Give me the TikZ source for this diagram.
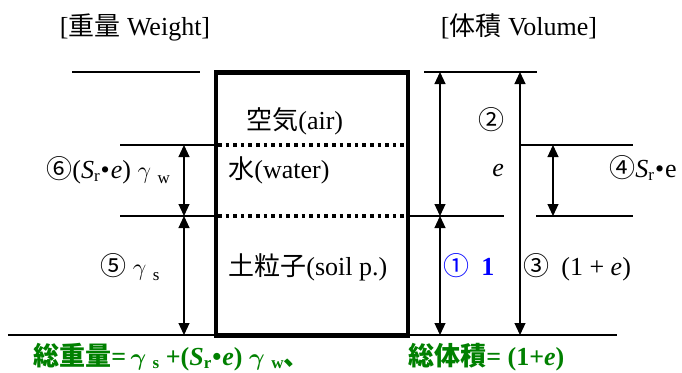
\documentclass[tikz,border=0pt]{standalone}
\usepackage{fontspec}
\usepackage{bm}
\setmainfont{Liberation Serif}
\newfontfamily\jp{Noto Sans CJK JP}
\usetikzlibrary{arrows.meta}
\definecolor{grn}{RGB}{0,128,0}
\definecolor{blu}{RGB}{0,0,255}
\newcommand{\gsub}[1]{\raisebox{-2.5pt}{\fontsize{8.5}{9}\selectfont #1}}
\newcommand{\tsub}[1]{\raisebox{-1.5pt}{\fontsize{8.5}{9}\selectfont #1}}
\newcommand{\Sr}{\textit{S}\raisebox{-1.5pt}{\fontsize{8.5}{9}\selectfont r}}
\newcommand{\mdot}{\kern0.5pt•\kern0.5pt}
\newcommand{\gam}{$\gamma$}
\newcommand{\bgam}{$\bm{\gamma}$}
\begin{document}
\begin{tikzpicture}[x=0.5pt,y=-0.5pt,
  every node/.style={inner sep=0pt,font=\fontsize{13}{15}\selectfont},
  ln/.style={line width=0.6pt},
  tip/.tip={Triangle[length=6pt,width=5.5pt]},
  dimarrow/.style={ln,tip-tip},
  boxline/.style={line width=2.2pt},
  sep/.style={line width=1.8pt,dash pattern=on 1.8pt off 2pt},
  lbl/.style={anchor=base west},
  total/.style={anchor=base west,text=grn,font=\fontsize{13}{15}\selectfont\bfseries}]
\useasboundingbox (0,0) rectangle (682,372);
% coordinates
\coordinate (LT1) at (72,72);   \coordinate (LT2) at (200,72);
\coordinate (Lw) at (120,145);  \coordinate (Ls) at (120,216);
\coordinate (Lb) at (8,335);
\coordinate (BXw) at (216,145); \coordinate (BXs) at (216,216); \coordinate (BXb) at (216,335);
\coordinate (BXe) at (408,216); \coordinate (BXeb) at (408,335);
\coordinate (A1) at (184,145); \coordinate (A2) at (184,216); \coordinate (A3) at (184,335);
\coordinate (B1) at (440,72);  \coordinate (B2) at (440,216); \coordinate (B3) at (440,335);
\coordinate (C1) at (520,72);  \coordinate (C2) at (520,145); \coordinate (C3) at (520,335);
\coordinate (D1) at (553,145); \coordinate (D2) at (553,216);
\coordinate (RT1) at (424,72); \coordinate (RT2) at (537,72);
\coordinate (RW2) at (633,145);
\coordinate (RS1) at (504,216); \coordinate (RS2) at (536,216); \coordinate (RS3) at (633,216);
\coordinate (RB2) at (617,335);
\coordinate (S1) at (218,145); \coordinate (S2) at (406,145);
\coordinate (S3) at (218,216); \coordinate (S4) at (406,216);
% box
\draw[boxline] (216,72.5) rectangle (408,335.5);
\draw[sep] (S1) -- (S2);
\draw[sep] (S3) -- (S4);
% horizontal reference lines
\draw[ln] (LT1) -- (LT2);
\draw[ln] (Lw) -- (BXw);
\draw[ln] (Ls) -- (BXs);
\draw[ln] (Lb) -- (BXb);
\draw[ln] (RT1) -- (RT2);
\draw[ln] (C2) -- (RW2);
\draw[ln] (BXe) -- (RS1);
\draw[ln] (RS2) -- (RS3);
\draw[ln] (BXeb) -- (RB2);
% dimension arrows
\draw[dimarrow] (A1) -- (A2);
\draw[dimarrow] (A2) -- (A3);
\draw[dimarrow] (B1) -- (B2);
\draw[dimarrow] (B2) -- (B3);
\draw[dimarrow] (C1) -- (C3);
\draw[dimarrow] (D1) -- (D2);
% texts
\node[anchor=base] (hw) at (135,35) {[{\jp 重量} Weight]};
\node[anchor=base] (hv) at (519,35) {[{\jp 体積} Volume]};
\node[lbl] (air) at (246,129) {{\jp 空気}(air)};
\node[lbl] (wat) at (228,178) {{\jp 水}(water)};
\node[lbl] (soil) at (228,275) {{\jp 土粒子}(soil p.)};
\node[lbl] (t6) at (46,178) {{\jp ⑥}(\Sr\mdot\textit{e}) \gam\ \gsub{w}};
\node[lbl] (t5) at (100,275) {{\jp ⑤} \gam\ \gsub{s}};
\node[lbl] (t2) at (478,129) {{\jp ②}};
\node[lbl] (te) at (492,176) {\textit{e}};
\node[lbl] (t4) at (609,177) {{\jp ④}\Sr\mdot e};
\node[lbl,text=blu] (t1) at (443,275) {{\jp ①}\hspace{6pt}\textbf{1}};
\node[lbl] (t3) at (523,275) {{\jp ③}\hspace{6pt}(1 + \textit{e})};
\node[total] (tw) at (33,365) {{\jp 総重量}=\,\bgam\ \tsub{s} +(\Sr\mdot\textit{e}) \bgam\ \tsub{w}{\jp 、}};
\node[total] (tv) at (408,365) {{\jp 総体積}= (1+\textit{e})};
\end{tikzpicture}
\end{document}
